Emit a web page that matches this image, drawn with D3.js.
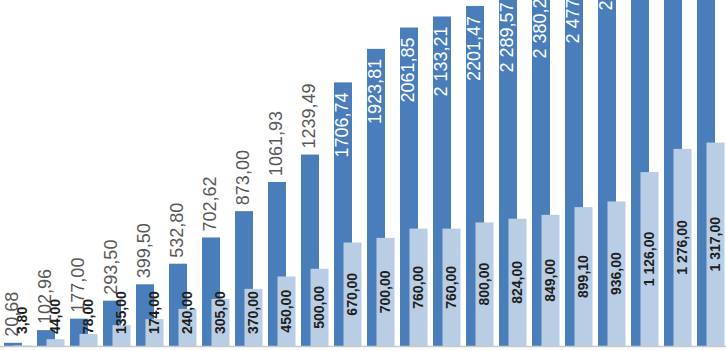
<!DOCTYPE html>
<html>
<head>
<meta charset="utf-8">
<script src="https://cdn.jsdelivr.net/npm/d3@7"></script>
<style>
  html, body { margin: 0; padding: 0; background: #fff; }
  svg { display: block; }
</style>
</head>
<body>
<div id="chart"></div>
<script>
(() => {
const width = 726, height = 351;

const categories = d3.range(1, 23).map(String);

const darkValues = [20.68, 102.96, 177.00, 293.50, 399.50, 532.80, 702.62, 873.00, 1061.93, 1239.49,
                    1706.74, 1923.81, 2061.85, 2133.21, 2201.47, 2289.57, 2380.20, 2477.00, 2690.00,
                    2850.00, 2990.00, 3120.00];
const darkLabels = ["20,68", "102,96", "177,00", "293,50", "399,50", "532,80", "702,62", "873,00", "1061,93", "1239,49",
                    "1706,74", "1923,81", "2061,85", "2 133,21", "2201,47", "2 289,57", "2 380,20", "2 477,00", "2 690,00",
                    "2 850,00", "2 990,00", "3 120,00"];

const lightValues = [3.80, 44.00, 78.00, 135.00, 174.00, 240.00, 305.00, 370.00, 450.00, 500.00,
                     670.00, 700.00, 760.00, 760.00, 800.00, 824.00, 849.00, 899.10, 936.00,
                     1126.00, 1276.00, 1317.00];
const lightLabels = ["3,80", "44,00", "78,00", "135,00", "174,00", "240,00", "305,00", "370,00", "450,00", "500,00",
                     "670,00", "700,00", "760,00", "760,00", "800,00", "824,00", "849,00", "899,10", "936,00",
                     "1 126,00", "1 276,00", "1 317,00"];

const rows = categories.map((c, i) => ({
    cat: c, dark: darkValues[i], light: lightValues[i], dl: darkLabels[i], ll: lightLabels[i]
}));

const svg = d3.select("#chart").append("svg")
    .attr("width", width).attr("height", height);

const baseY = 346;
const x = d3.scaleBand().domain(categories).range([4, 730]).padding(0);
const y = d3.scaleLinear().domain([0, 2240]).range([baseY, 0]);

const barW = 18, shift = 9.5;
const darkCol = "#4a7ebb", lightCol = "#b9cde5";

svg.append("g").selectAll("rect")
    .data(rows).join("rect")
    .attr("x", d => x(d.cat))
    .attr("y", d => y(d.dark))
    .attr("width", barW)
    .attr("height", d => y(0) - y(d.dark))
    .attr("fill", darkCol);

svg.append("g").selectAll("rect")
    .data(rows).join("rect")
    .attr("x", d => x(d.cat) + shift)
    .attr("y", d => y(d.light))
    .attr("width", barW)
    .attr("height", d => y(0) - y(d.light))
    .attr("fill", lightCol);

svg.append("line")
    .attr("x1", 0).attr("x2", width)
    .attr("y1", baseY + 0.5).attr("y2", baseY + 0.5)
    .attr("stroke", "#c8c8c8").attr("stroke-width", 1.5);

// dark labels: above the bar, or inside for the tall ones
const inside = 1500;
svg.append("g").selectAll("text")
    .data(rows).join("text")
    .attr("transform", d => {
        const cx = x(d.cat) + barW / 2 - 1;
        const yy = d.dark >= inside ? y(d.dark) + 10 : y(d.dark) - 6;
        return `translate(${cx},${yy}) rotate(-90)`;
    })
    .attr("text-anchor", d => d.dark >= inside ? "end" : "start")
    .attr("dy", "0.35em")
    .attr("font-family", "Liberation Sans, Arial, sans-serif")
    .attr("font-size", 18)
    .attr("fill", d => d.dark >= inside ? "#fff" : "#595959")
    .text(d => d.dl);

// light labels: centred in the bar, kept off the baseline
const charW = 0.556 * 14;
svg.append("g").selectAll("text")
    .data(rows).join("text")
    .attr("transform", d => {
        const len = d.ll.length * charW;
        const cx = x(d.cat) + shift + barW / 2;
        const mid = (y(d.light) + y(0)) / 2;
        const cy = Math.min(mid, baseY - 10 - len / 2);
        return `translate(${cx},${cy}) rotate(-90)`;
    })
    .attr("text-anchor", "middle")
    .attr("dy", "0.35em")
    .attr("font-family", "Liberation Sans, Arial, sans-serif")
    .attr("font-weight", "bold")
    .attr("font-size", 14)
    .attr("fill", "#1e1e1e")
    .text(d => d.ll);
})();
</script>
</body>
</html>
